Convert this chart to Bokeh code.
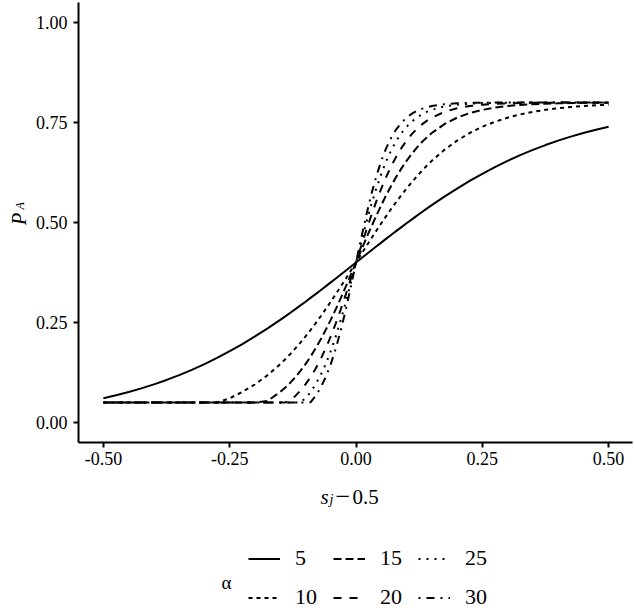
import math
from bokeh.plotting import figure
from bokeh.layouts import row, column
from bokeh.models import Range1d, FixedTicker, Legend, LegendItem
from bokeh.core.properties import value
from bokeh.embed import file_html
from bokeh.resources import INLINE

# ---- data ----
XS = [-0.5, -0.475, -0.45, -0.425, -0.4, -0.375, -0.35, -0.325, -0.3, -0.275, -0.25, -0.225, -0.2, -0.175,
      -0.15, -0.14, -0.13, -0.12, -0.11, -0.1, -0.09, -0.08, -0.07, -0.06, -0.05, -0.04, -0.03, -0.02, -0.01,
      0.0,
      0.01, 0.02, 0.03, 0.04, 0.05, 0.06, 0.07, 0.08, 0.09, 0.1, 0.11, 0.12, 0.13, 0.14, 0.15,
      0.175, 0.2, 0.225, 0.25, 0.275, 0.3, 0.325, 0.35, 0.375, 0.4, 0.425, 0.45, 0.475, 0.5]

A5 = [0.0607, 0.0681, 0.0763, 0.0854, 0.0954, 0.1064, 0.1184, 0.1316, 0.1459, 0.1614, 0.1782, 0.1961, 0.2152, 0.2354,
      0.2567, 0.2654, 0.2744, 0.2835, 0.2927, 0.3020, 0.3115, 0.3210, 0.3307, 0.3404, 0.3503, 0.3601, 0.3701, 0.3800, 0.3900,
      0.4000,
      0.4100, 0.4200, 0.4299, 0.4399, 0.4497, 0.4596, 0.4693, 0.4790, 0.4885, 0.4980, 0.5073, 0.5165, 0.5256, 0.5346, 0.5433,
      0.5646, 0.5848, 0.6039, 0.6218, 0.6386, 0.6541, 0.6684, 0.6816, 0.6936, 0.7046, 0.7146, 0.7237, 0.7319, 0.7393]

A10 = [0.05, 0.05, 0.05, 0.05, 0.05, 0.05, 0.05, 0.05, 0.05, 0.05, 0.0607, 0.0763, 0.0954, 0.1184,
       0.1459, 0.1583, 0.1713, 0.1852, 0.1998, 0.2152, 0.2312, 0.2480, 0.2654, 0.2835, 0.3020, 0.3210, 0.3404, 0.3601, 0.3800,
       0.4000,
       0.4200, 0.4399, 0.4596, 0.4790, 0.4980, 0.5165, 0.5346, 0.5520, 0.5688, 0.5848, 0.6002, 0.6148, 0.6287, 0.6417, 0.6541,
       0.6816, 0.7046, 0.7237, 0.7393, 0.7519, 0.7621, 0.7701, 0.7766, 0.7816, 0.7856, 0.7888, 0.7912, 0.7931, 0.7946]

A15 = [0.05, 0.05, 0.05, 0.05, 0.05, 0.05, 0.05, 0.05, 0.05, 0.05, 0.05, 0.05, 0.05, 0.0540,
       0.0763, 0.0873, 0.0996, 0.1135, 0.1289, 0.1459, 0.1647, 0.1852, 0.2074, 0.2312, 0.2567, 0.2835, 0.3115, 0.3404, 0.3701,
       0.4000,
       0.4299, 0.4596, 0.4885, 0.5165, 0.5433, 0.5688, 0.5926, 0.6148, 0.6353, 0.6541, 0.6711, 0.6865, 0.7004, 0.7127, 0.7237,
       0.7460, 0.7621, 0.7735, 0.7816, 0.7873, 0.7912, 0.7939, 0.7958, 0.7971, 0.7980, 0.7986, 0.7991, 0.7994, 0.7996]

A20 = [0.05, 0.05, 0.05, 0.05, 0.05, 0.05, 0.05, 0.05, 0.05, 0.05, 0.05, 0.05, 0.05, 0.05,
       0.05, 0.05, 0.0553, 0.0665, 0.0798, 0.0954, 0.1135, 0.1344, 0.1583, 0.1852, 0.2152, 0.2480, 0.2835, 0.3210, 0.3601,
       0.4000,
       0.4399, 0.4790, 0.5165, 0.5520, 0.5848, 0.6148, 0.6417, 0.6656, 0.6865, 0.7046, 0.7202, 0.7335, 0.7447, 0.7541, 0.7621,
       0.7766, 0.7856, 0.7912, 0.7946, 0.7967, 0.7980, 0.7988, 0.7993, 0.7996, 0.7997, 0.7998, 0.7999, 0.7999, 0.8000]

A25 = [0.05, 0.05, 0.05, 0.05, 0.05, 0.05, 0.05, 0.05, 0.05, 0.05, 0.05, 0.05, 0.05, 0.05,
       0.05, 0.05, 0.05, 0.05, 0.05, 0.0607, 0.0763, 0.0954, 0.1184, 0.1459, 0.1782, 0.2152, 0.2567, 0.3020, 0.3503,
       0.4000,
       0.4497, 0.4980, 0.5433, 0.5848, 0.6218, 0.6541, 0.6816, 0.7046, 0.7237, 0.7393, 0.7519, 0.7621, 0.7701, 0.7766, 0.7816,
       0.7901, 0.7946, 0.7971, 0.7985, 0.7992, 0.7996, 0.7998, 0.7999, 0.7999, 0.8000, 0.8000, 0.8000, 0.8000, 0.8000]

A30 = [0.05, 0.05, 0.05, 0.05, 0.05, 0.05, 0.05, 0.05, 0.05, 0.05, 0.05, 0.05, 0.05, 0.05,
       0.05, 0.05, 0.05, 0.05, 0.05, 0.05, 0.0504, 0.0665, 0.0873, 0.1135, 0.1459, 0.1852, 0.2312, 0.2835, 0.3404,
       0.4000,
       0.4596, 0.5165, 0.5688, 0.6148, 0.6541, 0.6865, 0.7127, 0.7335, 0.7496, 0.7621, 0.7715, 0.7787, 0.7841, 0.7882, 0.7912,
       0.7958, 0.7980, 0.7991, 0.7996, 0.7998, 0.7999, 0.8000, 0.8000, 0.8000, 0.8000, 0.8000, 0.8000, 0.8000, 0.8000]

SERIES = [A5, A10, A15, A20, A25, A30]
SERIES_LABELS = ["5", "10", "15", "20", "25", "30"]
LEGEND_TITLE = "\u03b1"

X_TICKS = [-0.5, -0.25, 0.0, 0.25, 0.5]
X_TICK_LABELS = ["-0.50", "-0.25", "0.00", "0.25", "0.50"]
Y_TICKS = [0.0, 0.25, 0.5, 0.75, 1.0]
Y_TICK_LABELS = ["0.00", "0.25", "0.50", "0.75", "1.00"]

# ---- styles ----
DASHES = ["solid", "4 4", "8 4", "8 8", "2 6", "2 6 8 6"]
FONT = "Liberation Serif"
LW = 2
STRIP_W = 32
MAIN_H = 474
PAGE_W, PAGE_H = 634, 611


def bare(fig):
    fig.outline_line_color = None
    fig.grid.visible = False
    fig.axis.visible = False
    fig.background_fill_color = "white"
    fig.border_fill_color = "white"


def txt(fig, x, y, s, size, style="normal", angle=0.0, align="left", baseline="alphabetic"):
    fig.text(x=[x], y=[y], text=[s], angle=angle, text_font=value(FONT), text_font_size=value(size),
             text_font_style=style, text_color="black", text_align=align, text_baseline=baseline)


# ---- main plot ----
p = figure(width=PAGE_W - STRIP_W, height=MAIN_H, output_backend="svg", toolbar_location=None,
           x_range=Range1d(-0.5493, 0.5473), y_range=Range1d(-0.05, 1.05),
           min_border_left=76 - STRIP_W, min_border_right=2, min_border_top=2, min_border_bottom=MAIN_H - 442)
p.outline_line_color = None
p.grid.visible = False
p.background_fill_color = "white"
p.border_fill_color = "white"

for ax, ticks, labels in ((p.xaxis, X_TICKS, X_TICK_LABELS), (p.yaxis, Y_TICKS, Y_TICK_LABELS)):
    ax.ticker = FixedTicker(ticks=ticks)
    ax.major_label_overrides = {t: l for t, l in zip(ticks, labels)}
    ax.axis_line_color = "black"
    ax.axis_line_width = 2
    ax.major_tick_line_color = "black"
    ax.major_tick_line_width = 2
    ax.major_tick_out = 5
    ax.major_tick_in = 0
    ax.minor_tick_out = 0
    ax.minor_tick_in = 0
    ax.major_label_text_font = FONT
    ax.major_label_text_font_size = "18px"
    ax.major_label_text_color = "black"
p.xaxis.major_label_standoff = 4
p.yaxis.major_label_standoff = 6

for ys, dash in zip(SERIES, DASHES):
    p.line(XS, ys, line_color="black", line_width=LW, line_dash=dash)

# ---- y-axis title strip (pixel coordinates, y measured upward; glyphs anchored at their centres) ----
pt = figure(width=STRIP_W, height=MAIN_H, output_backend="svg", toolbar_location=None,
            x_range=Range1d(0, STRIP_W), y_range=Range1d(0, MAIN_H),
            min_border_left=0, min_border_right=0, min_border_top=0, min_border_bottom=0)
bare(pt)
txt(pt, 18, MAIN_H - 233, "P", "20px", "italic", angle=math.pi / 2, align="center", baseline="middle")
txt(pt, 19, MAIN_H - 219, "A", "12px", "italic", angle=math.pi / 2, align="center", baseline="middle")

# ---- bottom strip: x-axis title and legend (pixel coordinates, y measured upward) ----
BOT_H = PAGE_H - MAIN_H
pb = figure(width=PAGE_W, height=BOT_H, output_backend="svg", toolbar_location=None,
            x_range=Range1d(0, PAGE_W), y_range=Range1d(0, BOT_H),
            min_border_left=0, min_border_right=0, min_border_top=0, min_border_bottom=0)
bare(pb)
txt(pb, 320, PAGE_H - 496, "s", "21px", "italic")
txt(pb, 329, PAGE_H - 499, "j", "14px", "italic")
txt(pb, 335, PAGE_H - 496, "\u2212", "26px")
txt(pb, 352, PAGE_H - 496, "0.5", "21px")
txt(pb, 226, PAGE_H - 582, LEGEND_TITLE, "19px", align="center", baseline="middle")

# legend keys: the same series, drawn on an off-screen range so only the legend shows them
pb.extra_x_ranges = {"off": Range1d(10, 11)}
keys = []
for ys, dash in zip(SERIES, DASHES):
    keys.append(pb.line(XS, ys, line_color="black", line_width=LW, line_dash=dash, x_range_name="off"))

legend = Legend(items=[LegendItem(label=l, renderers=[r]) for l, r in zip(SERIES_LABELS, keys)],
                location=(248, 1), orientation="vertical", nrows=2,
                glyph_width=32, glyph_height=25, label_height=25, label_width=25,
                label_standoff=15, spacing=13, padding=0, margin=0,
                border_line_color=None, background_fill_alpha=0,
                label_text_font=FONT, label_text_font_size="22px", label_text_color="black")
pb.add_layout(legend)

layout = column(row(pt, p, spacing=0), pb, spacing=0)
open("out.html", "w").write(file_html(layout, INLINE))
